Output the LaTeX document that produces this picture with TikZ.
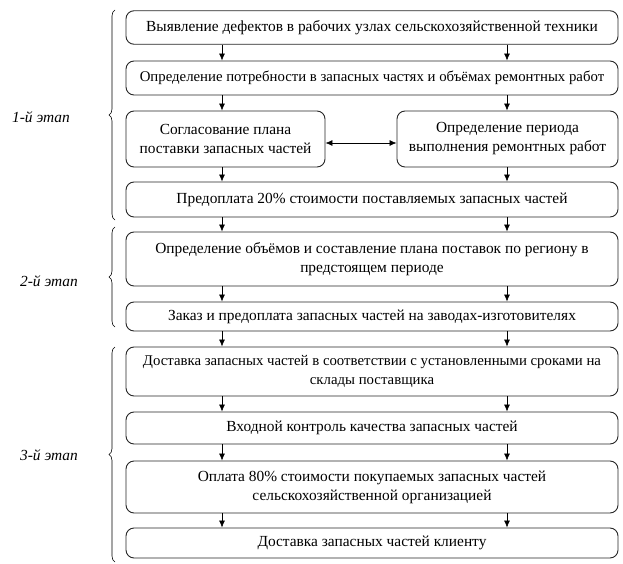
\documentclass[tikz,border=0pt]{standalone}
\usepackage{fontspec}
\setmainfont{Liberation Serif}
\usetikzlibrary{arrows.meta,decorations.pathreplacing}
\begin{document}
\begin{tikzpicture}[x=1pt,y=-1pt,
  box/.style={draw=black!85, line width=0.9pt, rounded corners=8pt, align=center, inner sep=0pt,
    font=\fontsize{15.4}{19}\selectfont, minimum width=492pt},
  tight/.style={font=\fontsize{14.8}{19}\selectfont},
  arr/.style={-{Latex[length=7pt,width=6pt]}, line width=0.7pt},
  dbl/.style={{Latex[length=7pt,width=6pt]}-{Latex[length=7pt,width=6pt]}, line width=0.7pt},
  brc/.style={decorate, decoration={brace, amplitude=6pt}, line width=0.6pt},
  stage/.style={font=\fontsize{15.4}{19}\selectfont\itshape}]
\useasboundingbox (0,0) rectangle (623,564);
\coordinate (xl) at (222,0);
\coordinate (xr) at (507,0);
\node[box, minimum height=33.5pt] (b1) at (372,27.5) {Выявление дефектов в рабочих узлах сельскохозяйственной техники};
\node[box, tight, minimum height=34pt] (b2) at (372,78) {Определение потребности в запасных частях и объёмах ремонтных работ};
\node[box, minimum height=56pt, minimum width=199pt] (b3l) at (225.5,139) {Согласование плана\\поставки запасных частей};
\node[box, minimum height=56pt, minimum width=221pt] (b3r) at (507.5,139) {Определение периода\\выполнения ремонтных работ};
\node[box, minimum height=35pt] (b4) at (372,199.5) {Предоплата 20\% стоимости поставляемых запасных частей};
\node[box, minimum height=54pt] (b5) at (372,259) {Определение объёмов и составление плана поставок по региону в\\предстоящем периоде};
\node[box, minimum height=29pt] (b6) at (372,316.5) {Заказ и предоплата запасных частей на заводах-изготовителях};
\node[box, tight, minimum height=49pt] (b7) at (372,371.5) {Доставка запасных частей в соответствии с установленными сроками на\\склады поставщика};
\node[box, minimum height=32pt] (b8) at (372,428) {Входной контроль качества запасных частей};
\node[box, minimum height=52pt] (b9) at (372,487) {Оплата 80\% стоимости покупаемых запасных частей\\сельскохозяйственной организацией};
\node[box, minimum height=30pt] (b10) at (372,543) {Доставка запасных частей клиенту};
% arrows
\draw[arr] (b1.south -| xl) -- (b2.north -| xl);
\draw[arr] (b1.south -| xr) -- (b2.north -| xr);
\draw[arr] (b2.south -| xl) -- (b3l.north -| xl);
\draw[arr] (b2.south -| xr) -- (b3r.north -| xr);
\draw[arr] (b3l.south -| xl) -- (b4.north -| xl);
\draw[arr] (b3r.south -| xr) -- (b4.north -| xr);
\draw[dbl] ([yshift=-4pt]b3l.east) -- ([yshift=-4pt]b3r.west);
\draw[arr] (b4.south -| xl) -- (b5.north -| xl);
\draw[arr] (b4.south -| xr) -- (b5.north -| xr);
\draw[arr] (b5.south -| xl) -- (b6.north -| xl);
\draw[arr] (b5.south -| xr) -- (b6.north -| xr);
\draw[arr] (b6.south -| xl) -- (b7.north -| xl);
\draw[arr] (b6.south -| xr) -- (b7.north -| xr);
\draw[arr] (b7.south -| xl) -- (b8.north -| xl);
\draw[arr] (b7.south -| xr) -- (b8.north -| xr);
\draw[arr] (b8.south -| xl) -- (b9.north -| xl);
\draw[arr] (b8.south -| xr) -- (b9.north -| xr);
\draw[arr] (b9.south -| xl) -- (b10.north -| xl);
\draw[arr] (b9.south -| xr) -- (b10.north -| xr);
% braces
\coordinate (s1t) at (115,10);
\coordinate (s1b) at (115,220);
\coordinate (s2t) at (115,227);
\coordinate (s2b) at (115,327);
\coordinate (s3t) at (115,347);
\coordinate (s3b) at (115,562);
\draw[brc] (s1b) -- (s1t);
\draw[brc] (s2b) -- (s2t);
\draw[brc] (s3b) -- (s3t);
\node[stage] (l1) at (41,117) {1-й этап};
\node[stage] (l2) at (49,281) {2-й этап};
\node[stage] (l3) at (49,455) {3-й этап};
\end{tikzpicture}
\end{document}
